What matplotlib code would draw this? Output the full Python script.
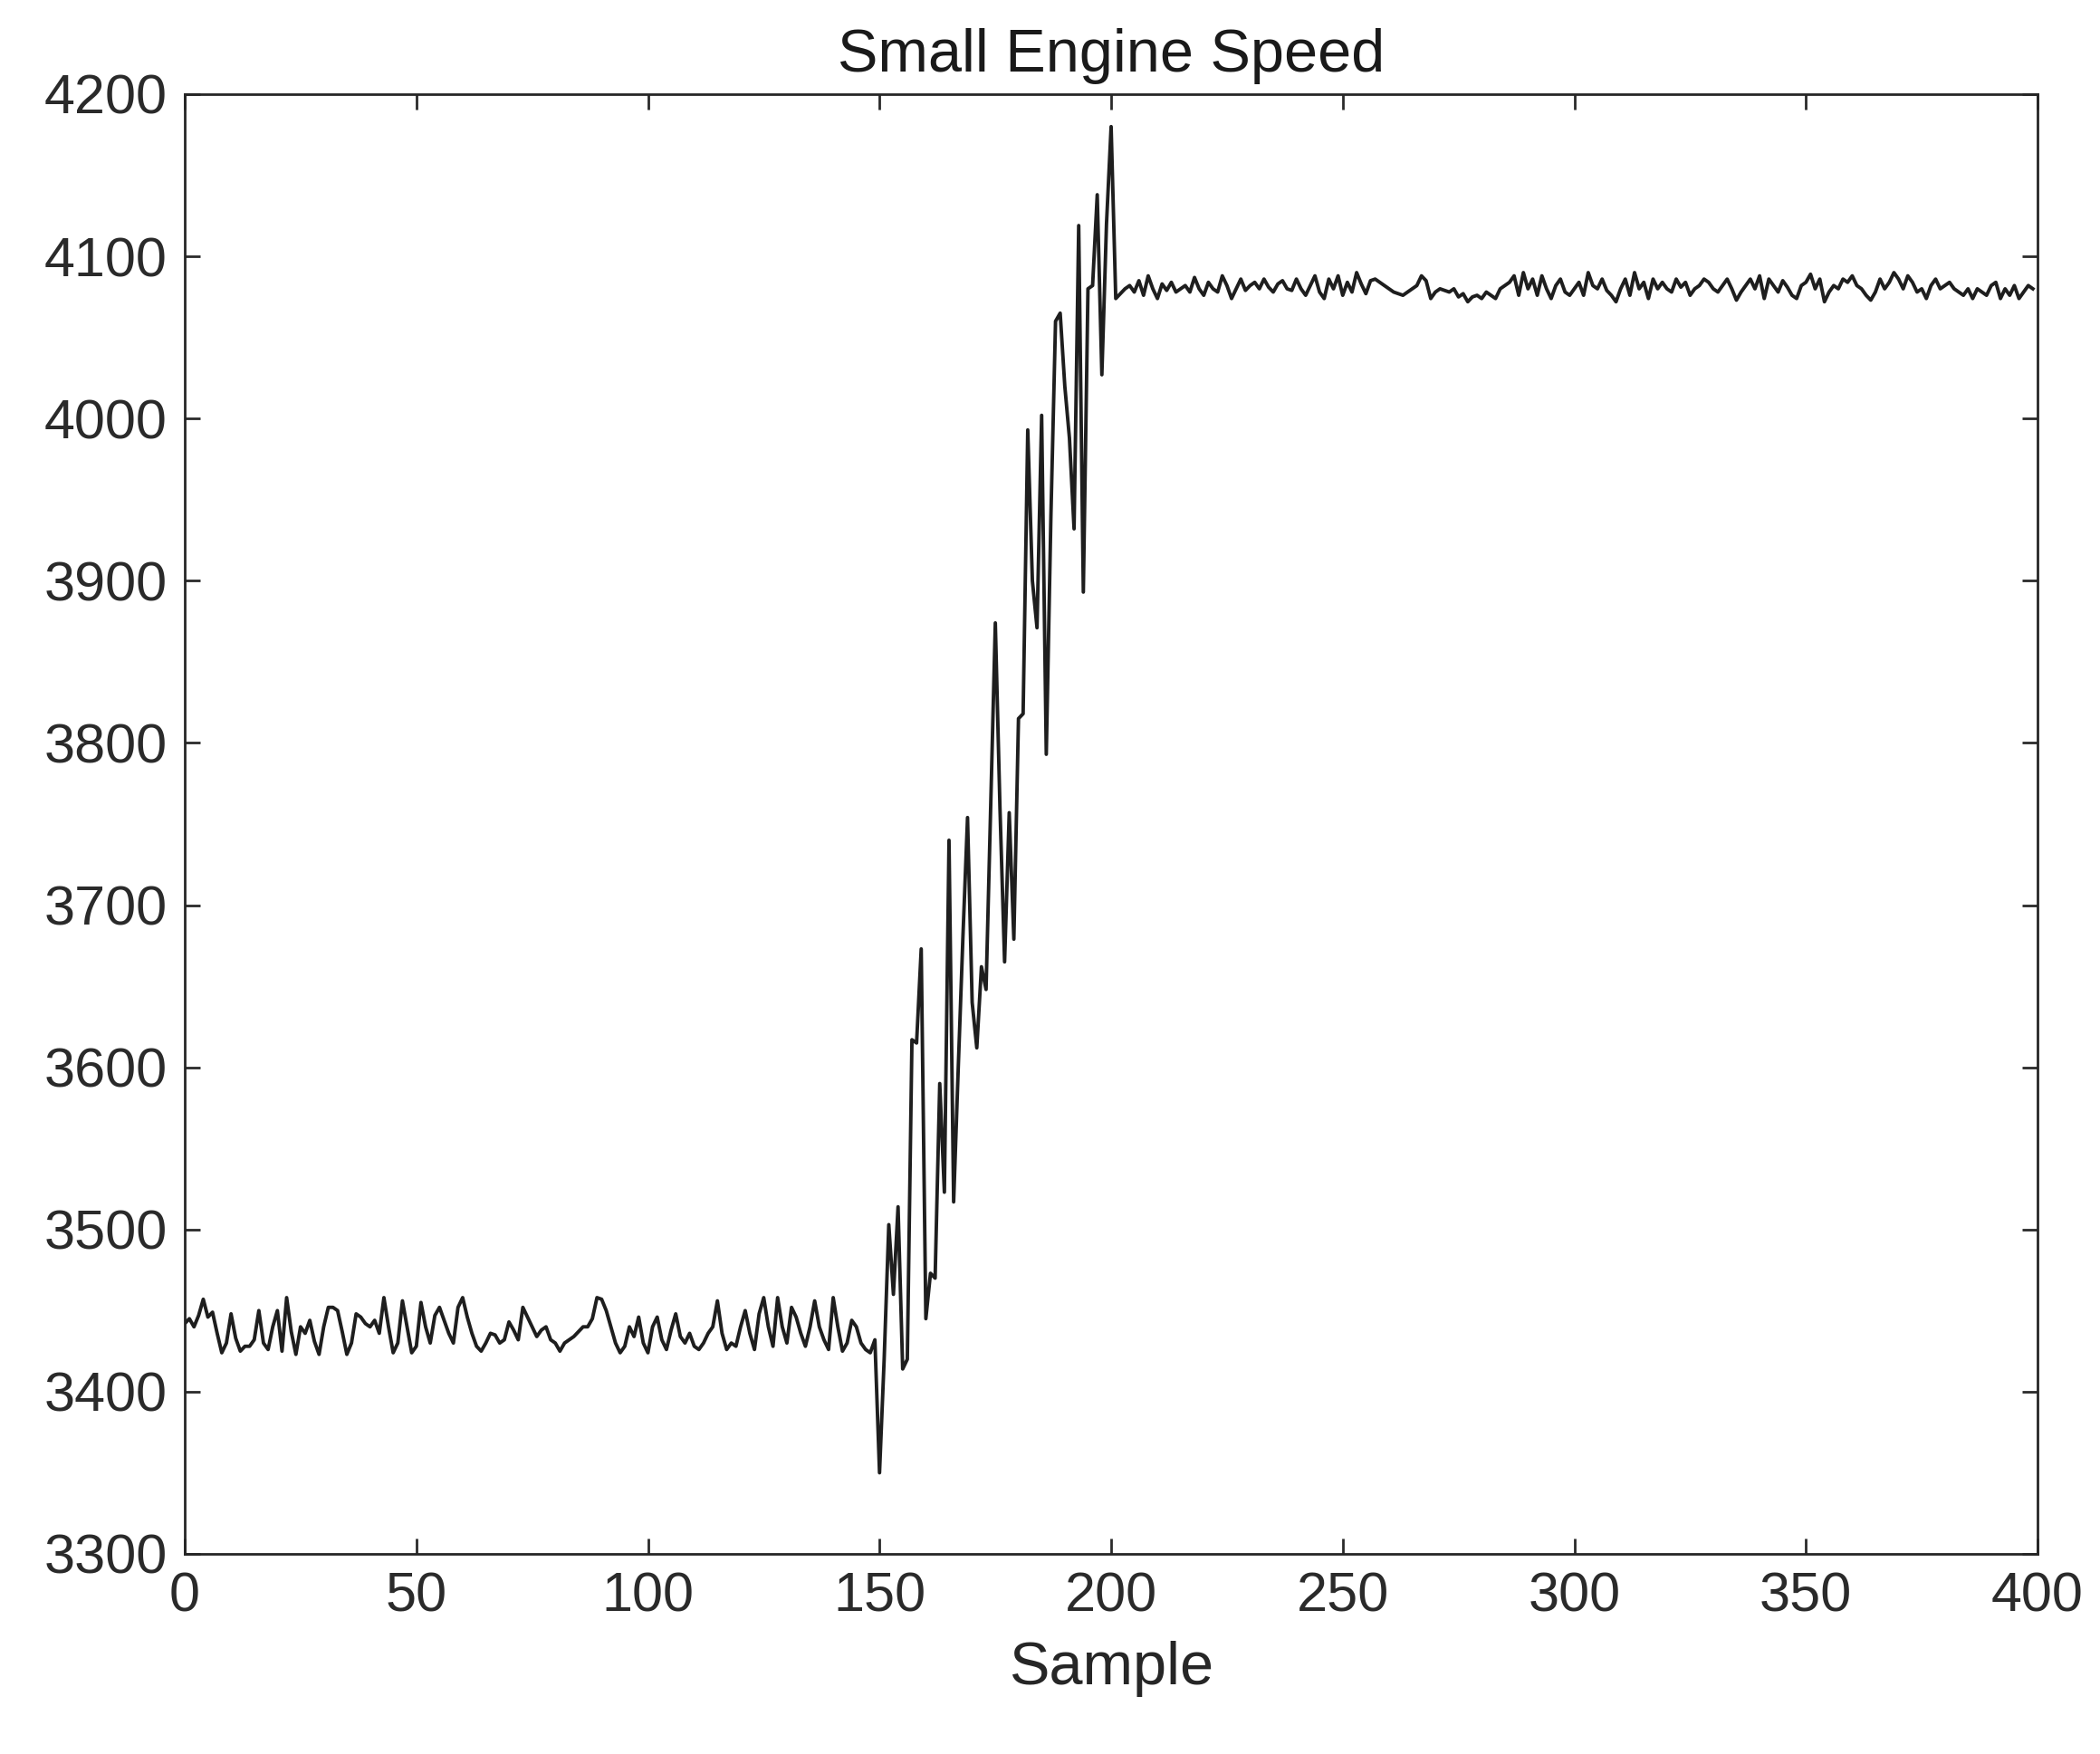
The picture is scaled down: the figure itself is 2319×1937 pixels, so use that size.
import numpy as np
import matplotlib
matplotlib.use("Agg")
import matplotlib.pyplot as plt

low_speed = [
3442,3445,3440,3447,3457,3446,3449,3436,3424,3430,3448,3433,3425,3428,3428,3432,3450,3430,3426,3440,3450,3425,3458,3437,3423,3440,3436,3444,3431,3423,3440,3452,3452,3450,3437,3423,3430,3448,3446,3442,3440,3444,3436,3458,3440,3424,3430,3456,3440,3424,3428,3455,3440,3430,3447,3452,3444,3436,3430,3452,3458,3446,3436,3428,3425,3430,3436,3435,3430,3432,3443,3438,3432,3452,3446,3440,3434,3438,3440,3432,3430,3425,3430,3432,3434,3437,3440,3440,3445,3458,3457,3450,3440,3430,3424,3428,3440,3434,3446,3430,3424,3440,3446,3432,3426,3438,3448,3434,3430,3436,3428,3426,3430,3436,3440,3456,3436,3426,3430,3428,3440,3450,3436,3426,3448,3458,3440,3428,3458,3440,3430,3452,3446,3436,3428,3440,3456,3440,3432,3426,3458,3440,3425,3430,3444,3440,3430,3426,3424,3432,
]
ramp_speed = [
3350,3420,3503,3460,3514,3414,3420,3617,3615,3673,3445,3473,3470,3590,3523,3740,3517,3600,3680,3754,3640,3612,3662,3648,3760,3874,3760,3665,3757,3679,3815,3818,3993,3900,3871,4002,3793,3940,4060,4065,4020,3988,3932,4119,3893,4080,4082,4138,4027,4120,4180,
]
high_speed = [
4074,4077,4080,4082,4078,4085,4076,4088,4080,4074,4083,4079,4084,4078,4080,4082,4078,4087,4080,4076,4084,4080,4078,4088,4082,4074,4080,4086,4079,4082,4084,4080,4086,4081,4078,4083,4085,4080,4079,4086,4080,4076,4082,4088,4078,4074,4086,4080,4088,4076,4084,4078,4090,4083,4077,4085,4086,4084,4082,4080,4078,4077,4076,4078,4080,4082,4088,4085,4074,4078,4080,4079,4078,4080,4075,4077,4072,4075,4076,4074,4078,4076,4074,4080,4082,4084,4088,4076,4090,4080,4086,4076,4088,4080,4074,4082,4086,4078,4076,4080,4084,4076,4090,4082,4080,4086,4079,4076,4072,4080,4086,4076,4090,4080,4084,4074,4086,4080,4084,4080,4078,4086,4081,4084,4076,4080,4082,4086,4084,4080,4078,4082,4086,4080,4073,4078,4082,4086,4080,4088,4074,4086,4082,4078,4085,4081,4076,4074,4082,4084,4089,4080,4086,4072,4078,4082,4080,4086,4084,4088,4082,4080,4076,4073,4078,4086,4080,4084,4090,4086,4080,4088,4084,4078,4080,4074,4082,4086,4080,4082,4084,4080,4078,4076,4080,4074,4080,4078,4076,4082,4084,4074,4080,4076,4082,4074,4078,4082,4080,
]
speed = low_speed + ramp_speed + high_speed
samples = np.arange(len(speed))

plt.rcParams['font.family'] = ['Liberation Sans', 'DejaVu Sans']
fig = plt.figure(figsize=(23.19, 19.37), dpi=100)
ax = fig.add_axes([204/2319, 1 - 1716/1937, 2046/2319, 1612/1937])
ax.plot(samples, speed, color='#1e1e1e', lw=2.8)
ax.set_xlim(0, 400)
ax.set_ylim(3300, 4200)
ax.set_xticks(np.arange(0, 401, 50))
ax.set_yticks(np.arange(3300, 4201, 100))
ax.tick_params(labelsize=44, direction='in', length=12, width=2, top=True, right=True, colors='#2a2a2a', pad=14)
for s in ax.spines.values():
    s.set_linewidth(2)
    s.set_color('#262626')
ax.set_xlabel('Sample', fontsize=48, color='#262626', labelpad=14)
ax.set_title('Small Engine Speed', fontsize=48, color='#1a1a1a', pad=18)
fig.savefig('out.png', dpi=100)
